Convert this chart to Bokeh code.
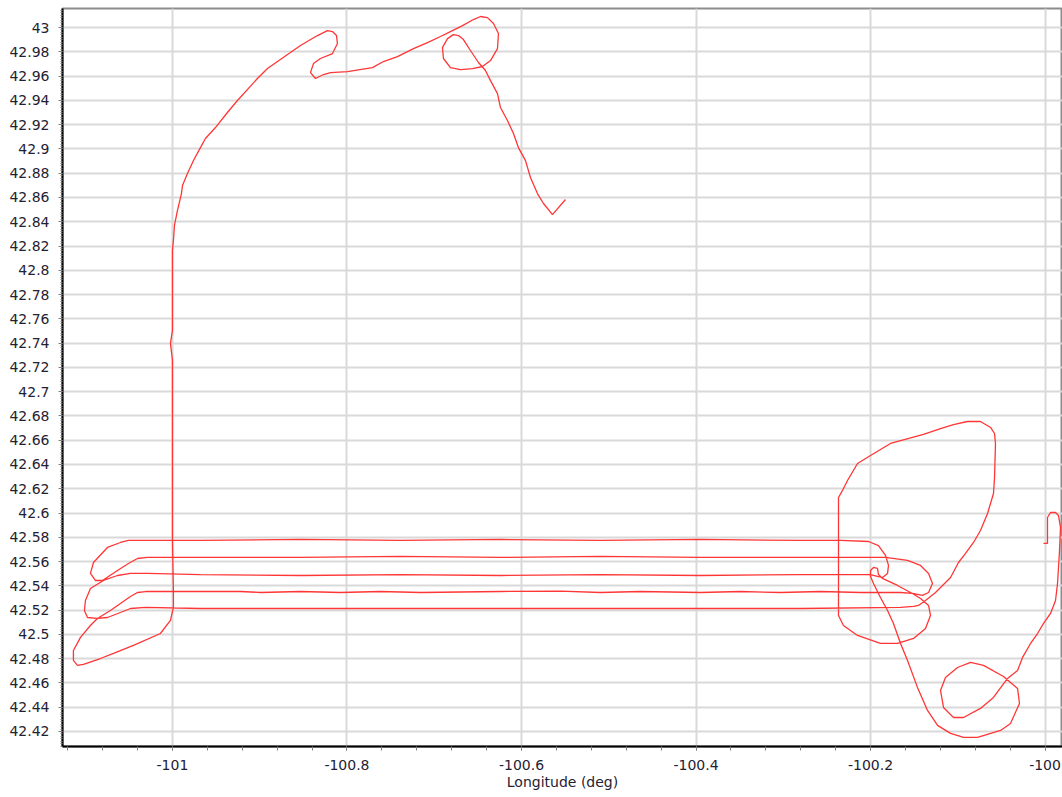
from bokeh.plotting import figure
from bokeh.models import Range1d, FixedTicker
from bokeh.embed import file_html
from bokeh.resources import INLINE
import numpy as np

# Flight track (longitude, latitude in degrees), in flight order
track_lon = [
    -100.5496, -100.5645, -100.5748, -100.5817, -100.5897, -100.5954, -100.6035, -100.6092,
    -100.6161, -100.6241, -100.6275, -100.6355, -100.6413, -100.6493, -100.6585, -100.6665,
    -100.6722, -100.6780, -100.6848, -100.6906, -100.6894, -100.6814, -100.6699, -100.6562,
    -100.6447, -100.6355, -100.6275, -100.6264, -100.6321, -100.6390, -100.6470, -100.6550,
    -100.6676, -100.6814, -100.6928, -100.7077, -100.7238, -100.7421, -100.7582, -100.7708,
    -100.7994, -100.8189, -100.8269, -100.8361, -100.8418, -100.8384, -100.8304, -100.8166,
    -100.8109, -100.8120, -100.8166, -100.8224, -100.8338, -100.8533, -100.8648, -100.8911,
    -100.9026, -100.9255, -100.9370, -100.9507, -100.9622, -100.9679, -100.9759, -100.9828,
    -100.9885, -100.9897, -100.9943, -100.9977, -100.9989, -101.0000, -101.0000, -101.0023,
    -101.0000, -101.0000, -100.9989, -100.9989, -101.0023, -101.0138, -101.0447, -101.0676,
    -101.0825, -101.1020, -101.1089, -101.1135, -101.1135, -101.1054, -101.0940, -101.0860,
    -101.0711, -101.0596, -101.0481, -101.0401, -101.0309,
    # leg eastbound
    -100.9221, -100.8991, -100.8533, -100.8075, -100.7616, -100.7158, -100.6241, -100.5553,
    -100.5095, -100.4636, -100.3949, -100.3490, -100.3032, -100.2573, -100.2115, -100.1656,
    -100.1519,
    -100.1404, -100.1335, -100.1290, -100.1335, -100.1427, -100.1576, -100.1828,
    # leg westbound
    -100.2803, -100.3949, -100.5095, -100.6241, -100.7387, -100.8533, -100.9679, -101.0287,
    -101.0401,
    -101.0504, -101.0630, -101.0802, -101.0883, -101.0940, -101.0905, -101.0745, -101.0596,
    -101.0504, -101.0401,
    # leg eastbound
    -100.9679, -100.8533, -100.7387, -100.6241, -100.5095, -100.3949, -100.2803, -100.2344,
    -100.2023,
    -100.1909, -100.1828, -100.1794, -100.1805, -100.1863, -100.1920, -100.2000,
    # leg westbound
    -100.2115, -100.2803, -100.3949, -100.5095, -100.6241, -100.7387, -100.8533, -100.9679,
    -101.0287, -101.0481, -101.0630,
    -101.0791, -101.0940, -101.0997, -101.1009, -101.0974, -101.0860, -101.0745, -101.0596,
    -101.0481, -101.0309,
    # leg eastbound
    -100.9679, -100.8533, -100.7387, -100.6241, -100.5095, -100.3949, -100.2803, -100.1656,
    -100.1507, -100.1450,
    -100.1370, -100.1255, -100.1083, -100.0992, -100.0911, -100.0820, -100.0740, -100.0659,
    -100.0591, -100.0579, -100.0568, -100.0579, -100.0625, -100.0740, -100.0889, -100.1049,
    -100.1198, -100.1393, -100.1656, -100.1771, -100.2000, -100.2149, -100.2264, -100.2321,
    -100.2367, -100.2367, -100.2310, -100.2149, -100.1886, -100.1691, -100.1507, -100.1370,
    -100.1313, -100.1335, -100.1427, -100.1519, -100.1691, -100.1863, -100.1909, -100.1920,
    -100.1966, -100.2000, -100.2000, -100.1966,
    -100.1886, -100.1805, -100.1737, -100.1656, -100.1576, -100.1462, -100.1347, -100.1232,
    -100.1083, -100.0934, -100.0774, -100.0510, -100.0396, -100.0293, -100.0315, -100.0476,
    -100.0705, -100.0854, -100.1003, -100.1141, -100.1198, -100.1164, -100.1049, -100.0934,
    -100.0740, -100.0591, -100.0430, -100.0315, -100.0258, -100.0166, -100.0086, -100.0017,
    -99.9937, -99.9880, -99.9857, -99.9834, -99.9823, -99.9846, -99.9880, -99.9937,
    -99.9972, -99.9972, -100.0017,
]

track_lat = [
    42.8583, 42.8459, 42.8550, 42.8632, 42.8764, 42.8904, 42.9011, 42.9127,
    42.9234, 42.9341, 42.9456, 42.9563, 42.9646, 42.9712, 42.9811, 42.9901,
    42.9934, 42.9942, 42.9909, 42.9835, 42.9745, 42.9670, 42.9654, 42.9662,
    42.9679, 42.9728, 42.9827, 42.9951, 43.0033, 43.0082, 43.0091, 43.0066,
    43.0016, 42.9967, 42.9926, 42.9876, 42.9827, 42.9761, 42.9720, 42.9670,
    42.9637, 42.9629, 42.9613, 42.9580, 42.9629, 42.9703, 42.9745, 42.9786,
    42.9868, 42.9934, 42.9967, 42.9975, 42.9934, 42.9852, 42.9794, 42.9662,
    42.9580, 42.9399, 42.9300, 42.9176, 42.9086, 42.9011, 42.8904, 42.8797,
    42.8698, 42.8632, 42.8492, 42.8369, 42.8245, 42.8163, 42.7504, 42.7397,
    42.7257, 42.5774, 42.5362, 42.5222, 42.5115, 42.5007, 42.4909, 42.4843,
    42.4801, 42.4752, 42.4744, 42.4785, 42.4867, 42.4975, 42.5073, 42.5131,
    42.5197, 42.5255, 42.5312, 42.5345, 42.5353,
    42.5353, 42.5345, 42.5353, 42.5345, 42.5353, 42.5345, 42.5353, 42.5357,
    42.5345, 42.5353, 42.5345, 42.5353, 42.5345, 42.5353, 42.5345, 42.5345,
    42.5337,
    42.5321, 42.5345, 42.5419, 42.5502, 42.5568, 42.5609, 42.5634,
    42.5634, 42.5634, 42.5642, 42.5634, 42.5642, 42.5634, 42.5634, 42.5634,
    42.5625,
    42.5584, 42.5526, 42.5444, 42.5444, 42.5502, 42.5592, 42.5716, 42.5757,
    42.5774, 42.5774,
    42.5774, 42.5782, 42.5774, 42.5782, 42.5774, 42.5782, 42.5774, 42.5774,
    42.5765,
    42.5732, 42.5650, 42.5568, 42.5502, 42.5469, 42.5477, 42.5493,
    42.5493, 42.5493, 42.5485, 42.5493, 42.5485, 42.5493, 42.5485, 42.5493,
    42.5502, 42.5502, 42.5485,
    42.5444, 42.5378, 42.5279, 42.5197, 42.5139, 42.5131, 42.5139, 42.5180,
    42.5213, 42.5222,
    42.5213, 42.5213, 42.5213, 42.5213, 42.5213, 42.5213, 42.5213, 42.5222,
    42.5230, 42.5238,
    42.5279, 42.5345, 42.5469, 42.5592, 42.5667, 42.5757, 42.5856, 42.5996,
    42.6161, 42.6293, 42.6573, 42.6655, 42.6705, 42.6754, 42.6754, 42.6729,
    42.6696, 42.6647, 42.6597, 42.6573, 42.6474, 42.6408, 42.6268, 42.6186,
    42.6128, 42.5156, 42.5073, 42.4991, 42.4925, 42.4925, 42.4966, 42.5049,
    42.5156, 42.5238, 42.5296, 42.5337, 42.5403, 42.5461, 42.5493, 42.5543,
    42.5551, 42.5526, 42.5477, 42.5419,
    42.5304, 42.5197, 42.5090, 42.4925, 42.4785, 42.4563, 42.4373, 42.4250,
    42.4184, 42.4151, 42.4151, 42.4208, 42.4266, 42.4431, 42.4554, 42.4653,
    42.4744, 42.4769, 42.4727, 42.4645, 42.4538, 42.4398, 42.4315, 42.4315,
    42.4390, 42.4480, 42.4637, 42.4703, 42.4810, 42.4925, 42.5007, 42.5090,
    42.5172, 42.5279, 42.5419, 42.5691, 42.5881, 42.5980, 42.6004, 42.6004,
    42.5963, 42.5749, 42.5749,
]

x_tick_values = [-101.0, -100.8, -100.6, -100.4, -100.2, -100.0]
x_tick_labels = ["-101", "-100.8", "-100.6", "-100.4", "-100.2", "-100"]
y_tick_values = [round(42.42 + 0.02 * i, 2) for i in range(30)]
y_tick_labels = [("%.2f" % v).rstrip("0").rstrip(".") for v in y_tick_values]

label_color = "#1f2233"
grid_color = "#d9d9d9"
tick_color = "#7f7f7f"
font = "DejaVu Sans"

p = figure(
    width=1062, height=797,
    x_range=Range1d(-101.126, -99.98),
    y_range=Range1d(42.4076, 43.0157),
    output_backend="svg", toolbar_location=None,
    min_border_left=62, min_border_right=0, min_border_top=8, min_border_bottom=51,
)
p.background_fill_color = "white"
p.border_fill_color = "white"
p.outline_line_color = "#8c8c8c"
p.outline_line_width = 2

x_minor = [float(v) for v in np.round(np.arange(-101.12, -99.98, 0.04), 2)]
y_minor = [float(v) for v in np.round(np.arange(42.408, 43.016, 0.002), 3)]

p.xaxis.ticker = FixedTicker(ticks=x_tick_values, minor_ticks=x_minor)
p.yaxis.ticker = FixedTicker(ticks=y_tick_values, minor_ticks=y_minor)
p.xaxis.major_label_overrides = dict(zip(x_tick_values, x_tick_labels))
p.yaxis.major_label_overrides = dict(zip(y_tick_values, y_tick_labels))

for ax in (p.xaxis[0], p.yaxis[0]):
    ax.axis_line_color = "black"
    ax.axis_line_width = 2
    ax.major_tick_line_color = tick_color
    ax.minor_tick_line_color = tick_color
    ax.major_tick_in = 0
    ax.minor_tick_in = 0
    ax.major_label_text_font = font
    ax.major_label_text_font_size = "14px"
    ax.major_label_text_color = label_color

p.xaxis.major_tick_out = 4
p.xaxis.minor_tick_out = 4
p.yaxis.major_tick_out = 4
p.yaxis.minor_tick_out = 2
p.xaxis.major_label_standoff = 9
p.yaxis.major_label_standoff = 9

p.xaxis.axis_label = "Longitude (deg)"
p.xaxis.axis_label_text_font = font
p.xaxis.axis_label_text_font_size = "14px"
p.xaxis.axis_label_text_font_style = "normal"
p.xaxis.axis_label_text_color = label_color
p.xaxis.axis_label_standoff = 1

p.xgrid.ticker = p.xaxis.ticker
p.ygrid.ticker = p.yaxis.ticker
p.grid.grid_line_color = grid_color
p.grid.grid_line_width = 2

p.line(track_lon, track_lat, line_color="#ff3636", line_width=1.3)

open("out.html", "w").write(file_html(p, INLINE))
